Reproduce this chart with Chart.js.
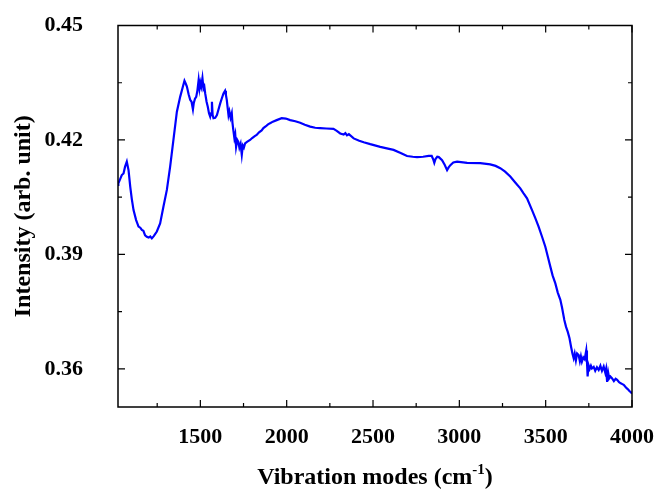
<!DOCTYPE html>
<html>
<head>
<meta charset="utf-8">
<script src="https://cdn.jsdelivr.net/npm/chart.js@4"></script>
<style>
  html, body { margin: 0; padding: 0; background: #fff; }
  #wrap { width: 657px; height: 490px; }
</style>
</head>
<body>
<div id="wrap"><canvas id="spectrumChart" width="657" height="490"></canvas></div>
<script>
// wavenumber (cm^-1)
const wavenumbers = [
  1023, 1025, 1045, 1055, 1064, 1074, 1084, 1094, 1103, 1113, 1128, 1142, 1152, 1161, 1170, 1180,
  1190, 1200, 1210, 1219, 1230, 1248, 1267, 1286, 1306, 1325, 1344, 1364, 1383, 1399, 1408, 1415,
  1422, 1432, 1441, 1449, 1457, 1462, 1469, 1476, 1483, 1490, 1495, 1500, 1505, 1512, 1518, 1523,
  1528, 1536, 1543, 1550, 1557, 1562, 1567, 1571, 1576, 1586, 1596, 1605, 1615, 1625, 1634, 1643,
  1648, 1653, 1658, 1663, 1668, 1675, 1682, 1686, 1691, 1697, 1702, 1707, 1714, 1720, 1726, 1733,
  1740, 1746, 1752, 1759, 1770, 1788, 1800, 1815, 1826, 1840, 1855, 1865, 1880, 1890, 1904, 1920,
  1942, 1971, 1995, 2020, 2050, 2078, 2105, 2136, 2165, 2194, 2230, 2271, 2290, 2310, 2330, 2340,
  2349, 2360, 2388, 2420, 2446, 2484, 2542, 2580, 2619, 2660, 2697, 2730, 2755, 2790, 2822, 2840,
  2848, 2855, 2862, 2872, 2881, 2900, 2915, 2929, 2938, 2948, 2965, 2987, 3045, 3121, 3179, 3210,
  3237, 3265, 3295, 3325, 3353, 3372, 3392, 3421, 3440, 3459, 3480, 3498, 3513, 3527, 3540, 3556,
  3570, 3585, 3595, 3608, 3618, 3628, 3638, 3647, 3655, 3662, 3668, 3675, 3682, 3691, 3698, 3704,
  3710, 3718, 3726, 3735, 3739, 3743, 3748, 3755, 3762, 3768, 3778, 3787, 3797, 3807, 3817, 3826,
  3836, 3845, 3850, 3856, 3862, 3868, 3875, 3885, 3895, 3905, 3914, 3925, 3935, 3944, 3952, 3965,
  3975, 3985, 3995, 4000
];

// intensity (arb. unit)
const intensity = [
  0.4082, 0.4086, 0.4108, 0.4112, 0.4130, 0.4143, 0.4121, 0.4077, 0.4045, 0.4016, 0.3990, 0.3973, 0.3970, 0.3964, 0.3962, 0.3950,
  0.3946, 0.3944, 0.3947, 0.3942, 0.3948, 0.3960, 0.3981, 0.4025, 0.4069, 0.4130, 0.4200, 0.4274, 0.4313, 0.4340, 0.4355, 0.4348,
  0.4340, 0.4320, 0.4305, 0.4300, 0.4280, 0.4297, 0.4308, 0.4313, 0.4330, 0.4357, 0.4335, 0.4350, 0.4340, 0.4362, 0.4335, 0.4340,
  0.4322, 0.4300, 0.4287, 0.4270, 0.4261, 0.4270, 0.4300, 0.4265, 0.4257, 0.4258, 0.4265, 0.4280, 0.4296, 0.4310, 0.4322, 0.4329,
  0.4318, 0.4305, 0.4285, 0.4265, 0.4275, 0.4258, 0.4270, 0.4245, 0.4226, 0.4205, 0.4215, 0.4182, 0.4200, 0.4195, 0.4180, 0.4190,
  0.4161, 0.4185, 0.4180, 0.4191, 0.4195, 0.4200, 0.4205, 0.4210, 0.4213, 0.4220, 0.4225, 0.4231, 0.4236, 0.4240, 0.4244, 0.4248,
  0.4252, 0.4257, 0.4256, 0.4252, 0.4249, 0.4245, 0.4240, 0.4235, 0.4232, 0.4231, 0.4230, 0.4229, 0.4224, 0.4217, 0.4214, 0.4218,
  0.4212, 0.4215, 0.4204, 0.4198, 0.4194, 0.4189, 0.4182, 0.4178, 0.4174, 0.4166, 0.4158, 0.4156, 0.4155, 0.4156, 0.4158, 0.4158,
  0.4150, 0.4140, 0.4150, 0.4156, 0.4155, 0.4147, 0.4135, 0.4121, 0.4128, 0.4134, 0.4141, 0.4143, 0.4140, 0.4139, 0.4136, 0.4132,
  0.4126, 0.4117, 0.4104, 0.4088, 0.4073, 0.4060, 0.4047, 0.4016, 0.3995, 0.3973, 0.3945, 0.3920, 0.3893, 0.3868, 0.3845, 0.3824,
  0.3800, 0.3781, 0.3760, 0.3728, 0.3710, 0.3697, 0.3680, 0.3658, 0.3640, 0.3628, 0.3640, 0.3622, 0.3640, 0.3636, 0.3620, 0.3633,
  0.3619, 0.3630, 0.3625, 0.3648, 0.3620, 0.3580, 0.3610, 0.3600, 0.3608, 0.3601, 0.3605, 0.3595, 0.3604, 0.3597, 0.3608, 0.3595,
  0.3606, 0.3590, 0.3600, 0.3566, 0.3590, 0.3575, 0.3580, 0.3575, 0.3568, 0.3574, 0.3571, 0.3565, 0.3562, 0.3560, 0.3558, 0.3551,
  0.3547, 0.3542, 0.3538, 0.3535
];

const xMajorTicks = [1500, 2000, 2500, 3000, 3500, 4000];
const xMinorTicks = [1250, 1750, 2250, 2750, 3250, 3750];
const yMajorTicks = [0.36, 0.39, 0.42, 0.45];
const yMinorTicks = [0.375, 0.405, 0.435];

const xRange = [1023, 4000];
const yRange = [0.35, 0.45];

const serif = "'Liberation Serif', 'Times New Roman', serif";
const titleFont = "bold 24px " + serif;
const supFont = "bold 15px " + serif;

// box, inward ticks on all four sides and the axis titles
const framePlugin = {
  id: "frame",
  afterDraw(chart) {
    const { ctx, chartArea: a, scales } = chart;
    const xs = scales.x, ys = scales.y;
    ctx.save();
    ctx.strokeStyle = "#000";
    ctx.lineWidth = 1.5;
    ctx.strokeRect(a.left, a.top, a.right - a.left, a.bottom - a.top);

    ctx.lineWidth = 1.2;
    ctx.beginPath();
    const xTick = (v, len) => {
      const px = xs.getPixelForValue(v);
      ctx.moveTo(px, a.bottom); ctx.lineTo(px, a.bottom - len);
      ctx.moveTo(px, a.top); ctx.lineTo(px, a.top + len);
    };
    const yTick = (v, len) => {
      const py = ys.getPixelForValue(v);
      ctx.moveTo(a.left, py); ctx.lineTo(a.left + len, py);
      ctx.moveTo(a.right, py); ctx.lineTo(a.right - len, py);
    };
    xMajorTicks.forEach(v => xTick(v, 7));
    xMinorTicks.forEach(v => xTick(v, 4));
    yMajorTicks.forEach(v => yTick(v, 7));
    yMinorTicks.forEach(v => yTick(v, 4));
    ctx.stroke();

    // x title with superscript
    ctx.fillStyle = "#000";
    ctx.textBaseline = "alphabetic";
    ctx.textAlign = "left";
    const t1 = "Vibration modes (cm", sup = "-1", t2 = ")";
    ctx.font = titleFont;
    const w1 = ctx.measureText(t1).width;
    const w3 = ctx.measureText(t2).width;
    ctx.font = supFont;
    const w2 = ctx.measureText(sup).width;
    const x0 = (a.left + a.right) / 2 - (w1 + w2 + w3) / 2;
    const base = 484;
    ctx.font = titleFont;
    ctx.fillText(t1, x0, base);
    ctx.font = supFont;
    ctx.fillText(sup, x0 + w1, base - 10);
    ctx.font = titleFont;
    ctx.fillText(t2, x0 + w1 + w2, base);

    // y title
    ctx.translate(30, (a.top + a.bottom) / 2);
    ctx.rotate(-Math.PI / 2);
    ctx.textAlign = "center";
    ctx.fillText("Intensity (arb. unit)", 0, 0);
    ctx.restore();
  }
};

// keep the tick labels from pushing the plot area inwards
const noOverhang = s => { s.paddingTop = 0; s.paddingBottom = 0; s.paddingLeft = 0; s.paddingRight = 0; };

const ctx = document.getElementById("spectrumChart").getContext("2d");

new Chart(ctx, {
  type: "line",
  data: {
    datasets: [{
      data: wavenumbers.map((w, i) => ({ x: w, y: intensity[i] })),
      borderColor: "#0000ff",
      borderWidth: 2.2,
      pointRadius: 0,
      tension: 0,
      fill: false
    }]
  },
  options: {
    responsive: false,
    animation: false,
    layout: { padding: { top: 25.5, right: 25, left: 0, bottom: 0 } },
    plugins: {
      legend: { display: false },
      tooltip: { enabled: false }
    },
    scales: {
      x: {
        type: "linear",
        min: xRange[0],
        max: xRange[1],
        grid: { display: false, drawTicks: false },
        border: { display: false },
        afterBuildTicks: s => { s.ticks = xMajorTicks.map(v => ({ value: v })); },
        afterFit: s => { s.height = 83; noOverhang(s); },
        ticks: {
          padding: 17,
          color: "#000",
          font: { family: serif, size: 22, weight: "bold" },
          maxRotation: 0,
          callback: v => String(v)
        }
      },
      y: {
        min: yRange[0],
        max: yRange[1],
        grid: { display: false, drawTicks: false },
        border: { display: false },
        afterBuildTicks: s => { s.ticks = yMajorTicks.map(v => ({ value: v })); },
        afterFit: s => { s.width = 118; noOverhang(s); },
        ticks: {
          padding: 35,
          color: "#000",
          font: { family: serif, size: 22, weight: "bold" },
          callback: v => v.toFixed(2)
        }
      }
    }
  },
  plugins: [framePlugin]
});
</script>
</body>
</html>
